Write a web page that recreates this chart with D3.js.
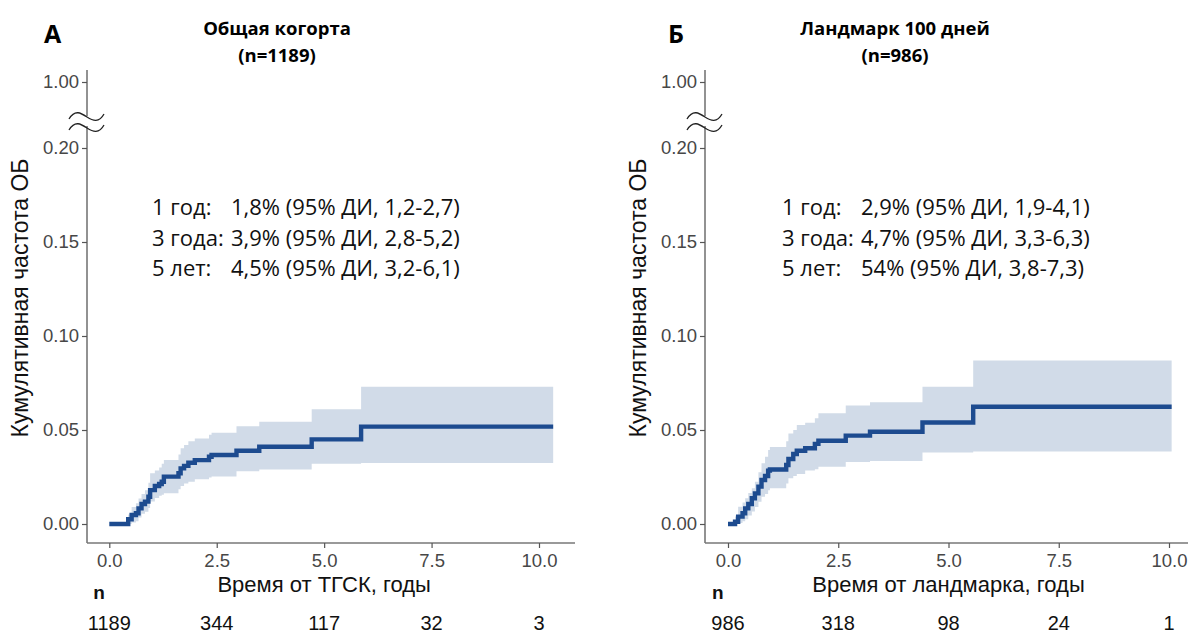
<!DOCTYPE html>
<html>
<head>
<meta charset="utf-8">
<script src="https://cdn.jsdelivr.net/npm/d3@7"></script>
<style>
  html, body { margin: 0; padding: 0; background: #fff; }
  svg { display: block; }
  .tick text { font-family: "Liberation Sans", Arial, sans-serif; font-size: 18.5px; fill: #474747; }
  .tick line { stroke: #555; stroke-width: 1.2; }
  .domain { stroke: #777; stroke-width: 1.6; }
</style>
</head>
<body>
<svg id="chart" width="1190" height="635"></svg>
<script>
// ---- Panel A: whole cohort (time from HSCT) ----
const timesA = [0, 0.44, 0.52, 0.62, 0.68, 0.75, 0.83, 0.91, 0.95, 1.06, 1.16, 1.22, 1.27, 1.61, 1.66, 1.74, 1.84, 1.99, 2.32, 2.38, 2.96, 3.49, 4.71, 5.86];
const estA   = [0, 0.0025, 0.0048, 0.0057, 0.0083, 0.0106, 0.0119, 0.0145, 0.018, 0.0202, 0.0213, 0.0225, 0.0252, 0.027, 0.0296, 0.0309, 0.0326, 0.034, 0.0358, 0.0367, 0.039, 0.0411, 0.045, 0.0518];
const lowA   = [0, 0.0, 0.0008, 0.0015, 0.0035, 0.0055, 0.0065, 0.0085, 0.012, 0.0138, 0.015, 0.0155, 0.0163, 0.0185, 0.0202, 0.0215, 0.0225, 0.0238, 0.0248, 0.0252, 0.028, 0.029, 0.032, 0.0325];
const highA  = [0, 0.005, 0.009, 0.011, 0.0135, 0.016, 0.018, 0.022, 0.027, 0.0285, 0.03, 0.032, 0.034, 0.037, 0.0403, 0.042, 0.044, 0.0455, 0.0475, 0.0486, 0.052, 0.0544, 0.061, 0.073];
const endA = 10.33;
const atRiskA = [1189, 344, 117, 32, 3];

// ---- Panel Б: 100-day landmark ----
const timesB = [0, 0.16, 0.23, 0.33, 0.39, 0.46, 0.54, 0.61, 0.69, 0.76, 0.84, 0.91, 0.95, 1.32, 1.37, 1.48, 1.56, 1.75, 1.97, 2.05, 2.67, 3.22, 4.41, 5.56];
const estB   = [0, 0.0012, 0.0039, 0.0057, 0.0083, 0.0106, 0.0137, 0.0163, 0.0199, 0.0234, 0.0255, 0.0284, 0.029, 0.0314, 0.0346, 0.0372, 0.039, 0.0403, 0.0426, 0.0443, 0.047, 0.0491, 0.054, 0.0624];
const lowB   = [0, 0, 0.0005, 0.0015, 0.0025, 0.0045, 0.0066, 0.009, 0.0119, 0.0145, 0.016, 0.018, 0.019, 0.0215, 0.0243, 0.0255, 0.0266, 0.0284, 0.0291, 0.0305, 0.033, 0.0335, 0.038, 0.0385];
const highB  = [0, 0.004, 0.0092, 0.0115, 0.0137, 0.0165, 0.019, 0.0225, 0.0275, 0.0323, 0.0358, 0.0394, 0.041, 0.044, 0.0482, 0.05, 0.0527, 0.0539, 0.0562, 0.0589, 0.063, 0.0647, 0.073, 0.087];
const endB = 10.06;
const atRiskB = [986, 318, 98, 24, 1];

// ---- shared labels ----
const xTicks = [0, 2.5, 5, 7.5, 10];
const yTicks = [0, 0.05, 0.10, 0.15, 0.20];
const yTopTick = [1.0];
const yLabel = "Кумулятивная частота ОБ";

const summaryRowLabels = ["1 год:", "3 года:", "5 лет:"];
const summaryA = ["1,8% (95% ДИ, 1,2-2,7)", "3,9% (95% ДИ, 2,8-5,2)", "4,5% (95% ДИ, 3,2-6,1)"];
const summaryB = ["2,9% (95% ДИ, 1,9-4,1)", "4,7% (95% ДИ, 3,3-6,3)", "54% (95% ДИ, 3,8-7,3)"];

const panels = [
  { letter: "А", title: "Общая когорта", sub: "(n=1189)", xTitle: "Время от ТГСК, годы",
    times: timesA, est: estA, low: lowA, high: highA, end: endA, atRisk: atRiskA, summary: summaryA,
    axisX: 87, x0: 109.3, x10: 539, axisEnd: 575, titleX: 277, letterX: 44, sumX: 152, yLabX: 28 },
  { letter: "Б", title: "Ландмарк 100 дней", sub: "(n=986)", xTitle: "Время от ландмарка, годы",
    times: timesB, est: estB, low: lowB, high: highB, end: endB, atRisk: atRiskB, summary: summaryB,
    axisX: 705, x0: 728, x10: 1169, axisEnd: 1188, titleX: 895, letterX: 668, sumX: 782, yLabX: 646 }
];

const svg = d3.select("#chart");
const Y0 = 524, Y20 = 148, XAXIS_Y = 543;
const lineColor = "#1d4b8f", bandColor = "#d1dbe8";
const sans = "'Liberation Sans', Arial, sans-serif";
const humanist = "'Open Sans', sans-serif";

panels.forEach(p => {
  const g = svg.append("g");
  const x = d3.scaleLinear().domain([0, 10]).range([p.x0, p.x10]);
  const y = d3.scaleLinear().domain([0, 0.20]).range([Y0, Y20]);
  const yTop = d3.scaleLinear().domain([0.9, 1.0]).range([96, 82]);

  // step data, extended to the last follow-up time
  const pts = p.times.map((t, i) => ({ t, e: p.est[i], lo: p.low[i], hi: p.high[i] }));
  const last = pts[pts.length - 1];
  pts.push({ t: p.end, e: last.e, lo: last.lo, hi: last.hi });

  // confidence band
  g.append("path")
    .datum(pts.slice(1))
    .attr("fill", bandColor)
    .attr("d", d3.area().curve(d3.curveStepAfter)
      .x(d => x(d.t)).y0(d => y(d.lo)).y1(d => y(d.hi)));

  // cumulative incidence curve
  g.append("path")
    .datum(pts)
    .attr("fill", "none")
    .attr("stroke", lineColor)
    .attr("stroke-width", 4.4)
    .attr("d", d3.line().curve(d3.curveStepAfter).x(d => x(d.t)).y(d => y(d.e)));

  // x axis
  const gx = g.append("g").attr("transform", `translate(0,${XAXIS_Y})`)
    .call(d3.axisBottom(x).tickValues(xTicks).tickFormat(d3.format(".1f")).tickSize(5).tickSizeOuter(0).tickPadding(3));
  gx.select(".domain").attr("d", `M${p.axisX},0H${p.axisEnd}`);
  gx.selectAll(".tick text").attr("dy", "0.85em");

  // y axis, lower part 0–0.20
  const gy = g.append("g").attr("transform", `translate(${p.axisX},0)`)
    .call(d3.axisLeft(y).tickValues(yTicks).tickFormat(d3.format(".2f")).tickSize(5).tickSizeOuter(0).tickPadding(3));
  gy.select(".domain").attr("d", `M0,${126}V${XAXIS_Y}`);

  // y axis, upper part with 1.00
  const gyt = g.append("g").attr("transform", `translate(${p.axisX},0)`)
    .call(d3.axisLeft(yTop).tickValues(yTopTick).tickFormat(d3.format(".2f")).tickSize(5).tickSizeOuter(0).tickPadding(3));
  gyt.select(".domain").attr("d", `M0,70V116`);

  // axis break marks
  [117, 128].forEach(by => {
    g.append("path")
      .attr("fill", "none").attr("stroke", "#222").attr("stroke-width", 1.3)
      .attr("d", `M${p.axisX - 18},${by + 2} C${p.axisX - 12},${by - 8} ${p.axisX - 6},${by - 4} ${p.axisX},${by}` +
                 ` S${p.axisX + 12},${by + 6} ${p.axisX + 17},${by - 3}`);
  });

  // y axis title
  g.append("text")
    .attr("transform", `translate(${p.yLabX},${298}) rotate(-90)`)
    .attr("text-anchor", "middle")
    .style("font-family", sans)
    .style("font-size", "23px").style("fill", "#111")
    .text(yLabel);

  // panel letter and title
  g.append("text").attr("x", p.letterX).attr("y", 43)
    .style("font-family", humanist).style("font-weight", 700)
    .style("font-size", "25px").style("fill", "#000").text(p.letter);
  g.append("text").attr("x", p.titleX).attr("y", 35).attr("text-anchor", "middle")
    .style("font-family", humanist).style("font-weight", 700)
    .style("font-size", "18.5px").style("fill", "#000").text(p.title);
  g.append("text").attr("x", p.titleX).attr("y", 62).attr("text-anchor", "middle")
    .style("font-family", humanist).style("font-weight", 700)
    .style("font-size", "18.5px").style("fill", "#000").text(p.sub);

  // summary estimates
  summaryRowLabels.forEach((lab, i) => {
    const ty = 215 + i * 30.5;
    g.append("text").attr("x", p.sumX).attr("y", ty)
      .style("font-family", humanist).style("font-size", "22px").style("fill", "#111")
      .text(lab);
    g.append("text").attr("x", p.sumX + 79).attr("y", ty)
      .style("font-family", humanist).style("font-size", "22px").style("fill", "#111")
      .text(p.summary[i]);
  });

  // x axis title
  g.append("text").attr("x", x(5)).attr("y", 592).attr("text-anchor", "middle")
    .style("font-family", sans)
    .style("font-size", "22px").style("fill", "#111")
    .text(p.xTitle);

  // number at risk
  g.append("text").attr("x", x(0) - 16).attr("y", 599)
    .style("font-family", sans).style("font-weight", 700)
    .style("font-size", "19px").style("fill", "#111").text("n");
  g.selectAll(".risk").data(p.atRisk).enter().append("text")
    .attr("x", (d, i) => x(xTicks[i])).attr("y", 630).attr("text-anchor", "middle")
    .style("font-family", sans)
    .style("font-size", "20px").style("fill", "#111")
    .text(d => d);
});
</script>
</body>
</html>
